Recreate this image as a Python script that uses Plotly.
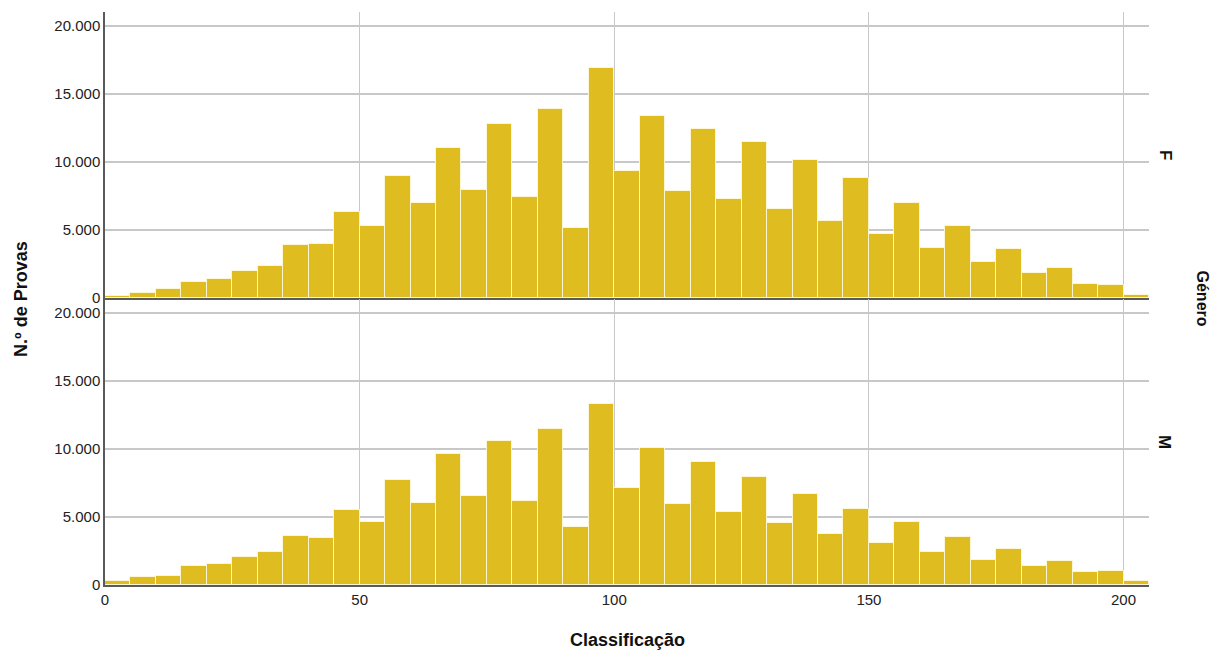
import plotly.graph_objects as go
from plotly.subplots import make_subplots

# Histogram bins of width 5 (left edges)
bin_start = list(range(0, 205, 5))
bin_width = 5

# Counts per bin, female
count_f = [170, 390, 640, 1150, 1370, 1960, 2350, 3920, 3950, 6320,
           5270, 8940, 7010, 11050, 7960, 12740, 7400, 13890, 5120, 16900,
           9360, 13380, 7840, 12400, 7300, 11440, 6520, 10140, 5680, 8820,
           4680, 7010, 3700, 5270, 2650, 3630, 1840, 2180, 1050, 930, 250]

# Counts per bin, male
count_m = [270, 560, 660, 1370, 1570, 2030, 2450, 3630, 3480, 5540,
           4630, 7720, 6000, 9600, 6570, 10560, 6170, 11420, 4260, 13280,
           7150, 10070, 5930, 9040, 5340, 7960, 4560, 6660, 3750, 5590,
           3090, 4630, 2400, 3530, 1840, 2620, 1370, 1790, 960, 1030, 320]

panel_labels = ["F", "M"]
x_ticks = [0, 50, 100, 150, 200]
y_ticks = [0, 5000, 10000, 15000, 20000]

bar_color = "#DFBC1F"
edge_color = "rgba(255,250,225,0.85)"
grid_color = "#C8C8C8"
axis_color = "#5A5A5A"
font_family = "Liberation Sans, Arial, sans-serif"

centers = [b + bin_width / 2 for b in bin_start]

fig = make_subplots(rows=2, cols=1, shared_xaxes=True, vertical_spacing=0.0)

for row, counts in ((1, count_f), (2, count_m)):
    fig.add_trace(
        go.Bar(
            x=centers,
            y=counts,
            width=bin_width,
            marker=dict(color=bar_color, line=dict(color=edge_color, width=1)),
            showlegend=False,
            hoverinfo="x+y",
        ),
        row=row, col=1,
    )

fig.update_layout(
    width=1214,
    height=651,
    margin=dict(l=105, r=65, t=12, b=66),
    paper_bgcolor="white",
    plot_bgcolor="white",
    separators=",.",
    bargap=0,
    font=dict(family=font_family, size=15, color="#222222"),
)

fig.update_layout(
    yaxis=dict(domain=[0.5009, 1.0]),
    yaxis2=dict(domain=[0.0, 0.4991]),
)

for r in (1, 2):
    fig.update_xaxes(
        range=[0, 205],
        tickvals=x_ticks,
        showgrid=True,
        gridcolor=grid_color,
        gridwidth=1,
        zeroline=False,
        showline=True,
        linecolor=axis_color,
        linewidth=2,
        ticks="",
        row=r, col=1,
    )
    fig.update_yaxes(
        range=[0, 21000],
        tickvals=y_ticks,
        tickformat=",d",
        showgrid=True,
        gridcolor=grid_color,
        gridwidth=1.5,
        zeroline=False,
        showline=True,
        linecolor=axis_color,
        linewidth=1.5,
        ticks="",
        row=r, col=1,
    )

fig.update_xaxes(showticklabels=False, row=1, col=1)
fig.update_xaxes(showticklabels=True, tickfont=dict(size=15), row=2, col=1)

annotations = [
    dict(text="<b>N.º de Provas</b>", x=-0.081, y=0.5, xref="paper", yref="paper",
         textangle=-90, showarrow=False, font=dict(size=18, color="#111111"),
         xanchor="center", yanchor="middle"),
    dict(text="<b>Classificação</b>", x=0.5, y=-0.096, xref="paper", yref="paper",
         showarrow=False, font=dict(size=18, color="#111111"),
         xanchor="center", yanchor="middle"),
    dict(text="<b>Género</b>", x=1.0517, y=0.5, xref="paper", yref="paper",
         textangle=90, showarrow=False, font=dict(size=16, color="#111111"),
         xanchor="center", yanchor="middle"),
]
for label, ypos in zip(panel_labels, (0.7505, 0.2495)):
    annotations.append(
        dict(text="<b>" + label + "</b>", x=1.0153, y=ypos, xref="paper", yref="paper",
             textangle=90, showarrow=False, font=dict(size=17, color="#111111"),
             xanchor="center", yanchor="middle")
    )
fig.update_layout(annotations=annotations)

fig.write_html("out.html")
